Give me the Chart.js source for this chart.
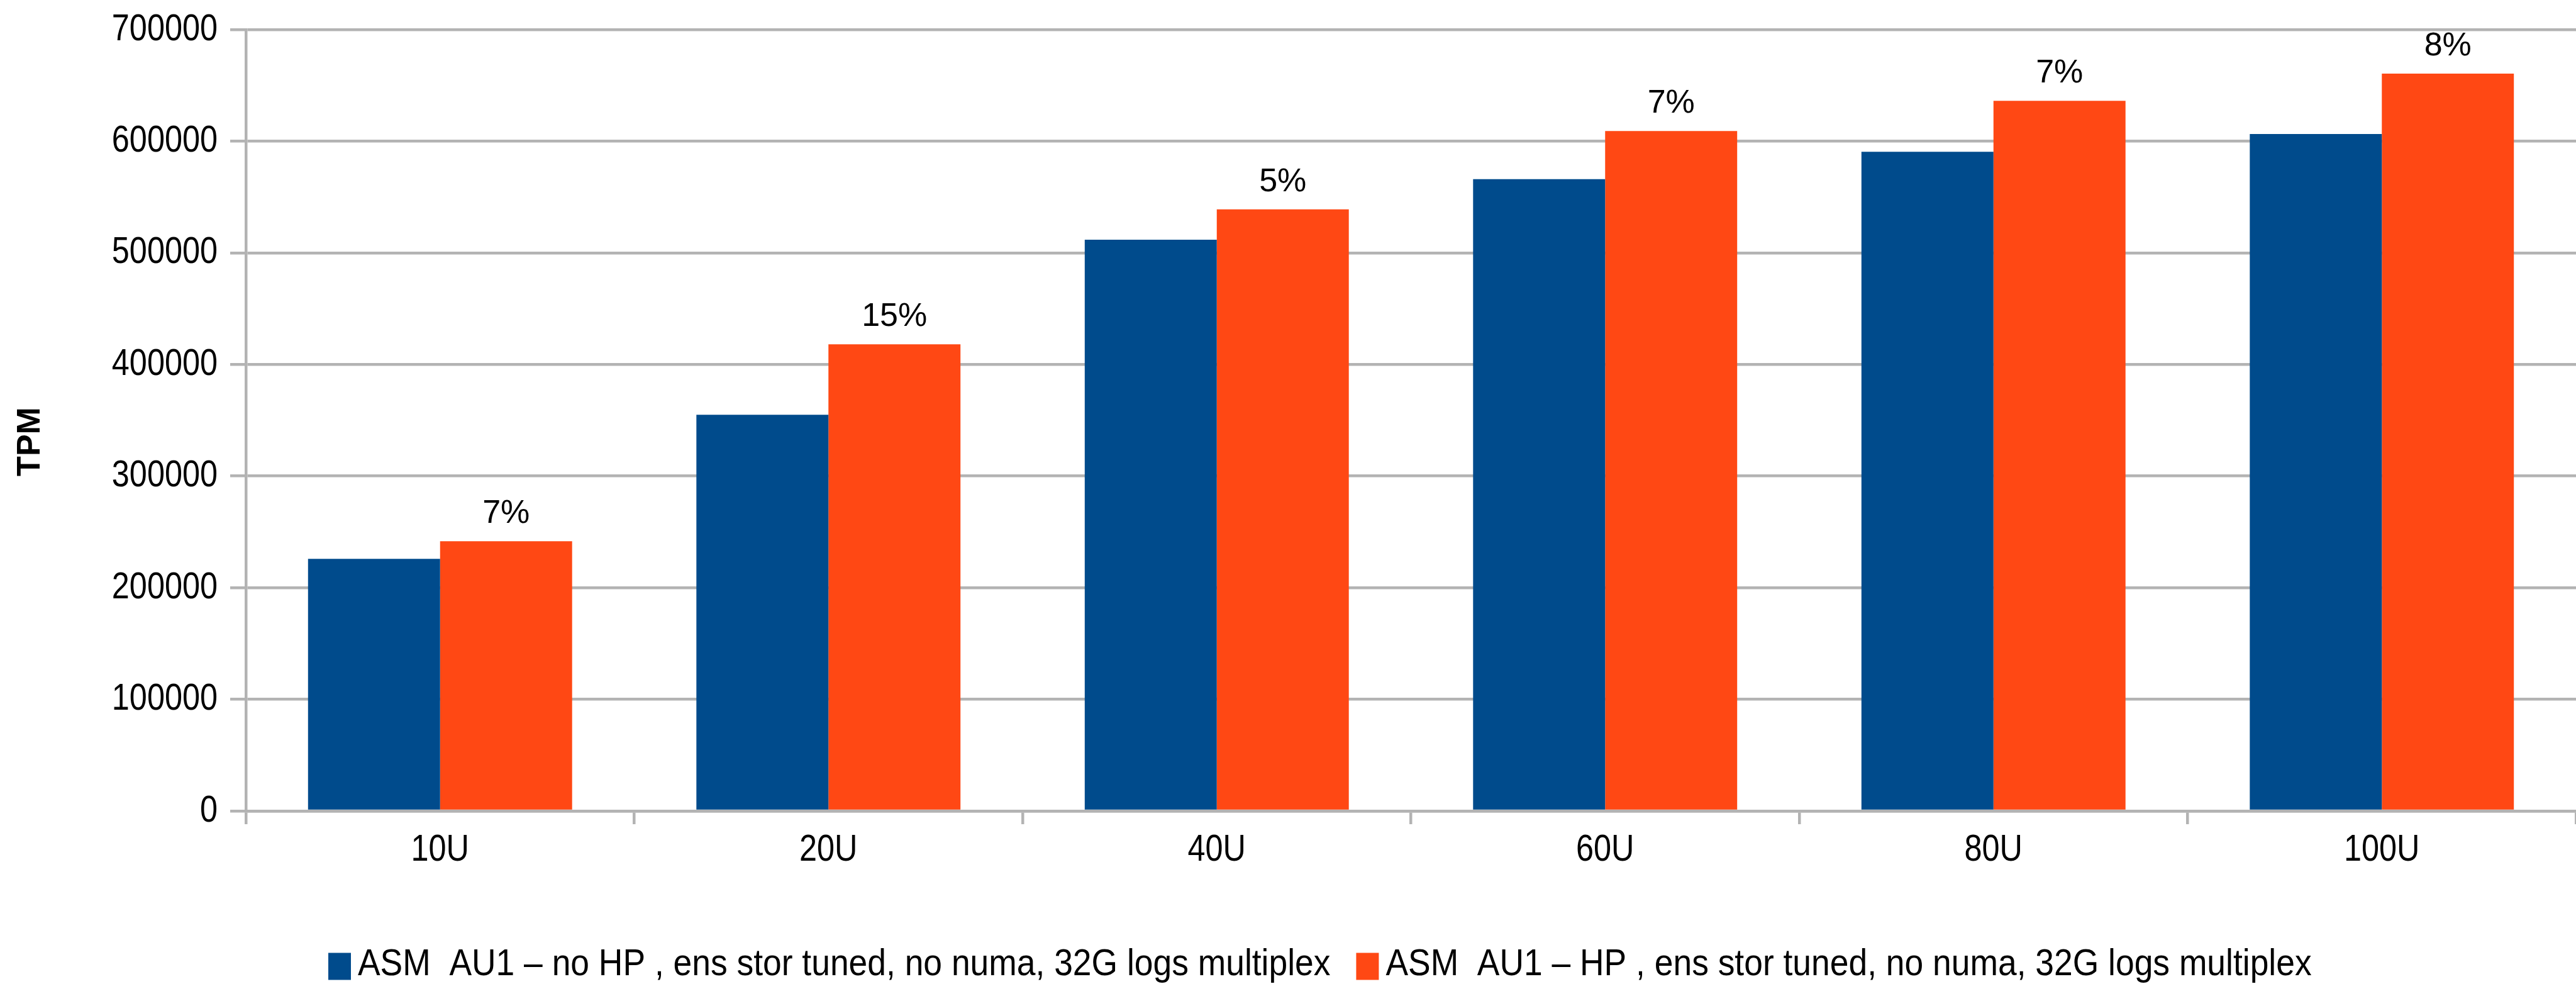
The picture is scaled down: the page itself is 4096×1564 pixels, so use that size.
<!DOCTYPE html>
<html>
<head>
<meta charset="utf-8">
<title>TPM</title>
<script src="https://cdn.jsdelivr.net/npm/chart.js@4.4.1/dist/chart.umd.min.js"></script>
<style>
  html, body { margin: 0; padding: 0; background: #fff; }
  #wrap { width: 4096px; height: 1564px; }
</style>
</head>
<body>
<div id="wrap"><canvas id="tpmChart" width="4096" height="1564"></canvas></div>
<script>
// Data
const categories = ['10U', '20U', '40U', '60U', '80U', '100U'];
const noHpValues = [225800, 355000, 511800, 566000, 590500, 606400];
const hpValues = [241700, 418000, 538900, 609100, 636200, 660600];
const gainLabels = ['7%', '15%', '5%', '7%', '7%', '8%'];
const seriesNames = [
    'ASM  AU1 – no HP , ens stor tuned, no numa, 32G logs multiplex',
    'ASM  AU1 – HP , ens stor tuned, no numa, 32G logs multiplex'
];
const yMax = 700000;
const yStep = 100000;

const regular = "'Liberation Sans', Arial, sans-serif";
const gridGrey = '#b3b3b3';
const axisSqueeze = 0.84;   // tick labels are drawn narrow
const legendSqueeze = 0.89;

function narrowText(ctx, text, x, y, squeeze) {
    ctx.fillText(text, x, y, ctx.measureText(text).width * squeeze);
}

// Percentage gain written above each HP bar
const gainLabelPlugin = {
    id: 'gainLabels',
    afterDatasetsDraw(chart) {
        const ctx = chart.ctx;
        const meta = chart.getDatasetMeta(1);
        ctx.save();
        ctx.font = '52px ' + regular;
        ctx.fillStyle = '#000';
        ctx.textAlign = 'center';
        ctx.textBaseline = 'alphabetic';
        meta.data.forEach((bar, i) => {
            ctx.fillText(gainLabels[i], bar.x, bar.y - 29);
        });
        ctx.restore();
    }
};

// Tick labels, y axis title and the legend row
const textPlugin = {
    id: 'axisText',
    afterDraw(chart) {
        const ctx = chart.ctx;
        const xScale = chart.scales.x;
        const yScale = chart.scales.y;

        ctx.save();
        ctx.font = '60px ' + regular;
        ctx.fillStyle = '#000';
        ctx.textBaseline = 'middle';

        ctx.textAlign = 'right';
        yScale.ticks.forEach((tick, i) => {
            narrowText(ctx, String(tick.value), yScale.right - 45, yScale.getPixelForTick(i), axisSqueeze);
        });

        ctx.textAlign = 'center';
        xScale.ticks.forEach((tick, i) => {
            narrowText(ctx, xScale.getLabelForValue(tick.value), xScale.getPixelForTick(i),
                chart.chartArea.bottom + 62, axisSqueeze);
        });
        ctx.restore();

        ctx.save();
        ctx.translate(49, 702);
        ctx.rotate(-Math.PI / 2);
        ctx.font = 'bold 52px ' + regular;
        ctx.fillStyle = '#000';
        ctx.textAlign = 'center';
        ctx.textBaseline = 'middle';
        ctx.fillText('TPM', 0, 0);
        ctx.restore();

        // legend
        ctx.save();
        ctx.font = '60px ' + regular;
        ctx.textAlign = 'left';
        ctx.textBaseline = 'middle';
        const boxW = 36, boxH = 43, gap = 11, itemGap = 41;
        let x = 522;
        const y = 1533;
        chart.data.datasets.forEach(ds => {
            ctx.fillStyle = ds.backgroundColor;
            ctx.fillRect(x, y - boxH / 2 + 3, boxW, boxH);
            x += boxW + gap;
            ctx.fillStyle = '#000';
            narrowText(ctx, ds.label, x, y, legendSqueeze);
            x += ctx.measureText(ds.label).width * legendSqueeze + itemGap;
        });
        ctx.restore();
    }
};

const ctx = document.getElementById('tpmChart').getContext('2d');
const tpmChart = new Chart(ctx, {
    type: 'bar',
    data: {
        labels: categories,
        datasets: [
            { label: seriesNames[0], data: noHpValues, backgroundColor: '#004b8c', borderWidth: 0 },
            { label: seriesNames[1], data: hpValues, backgroundColor: '#ff4814', borderWidth: 0 }
        ]
    },
    options: {
        responsive: false,
        animation: false,
        devicePixelRatio: 1,
        layout: { padding: { top: 47, right: 0, bottom: 0, left: 0 } },
        datasets: { bar: { barPercentage: 1, categoryPercentage: 0.68 } },
        plugins: {
            legend: { display: false },
            tooltip: { enabled: false }
        },
        scales: {
            x: {
                grid: { drawOnChartArea: false, color: gridGrey, lineWidth: 4.5, tickLength: 21, offset: true },
                border: { color: gridGrey, width: 4.5 },
                ticks: { display: false },
                afterFit: scale => { scale.height = 275; }
            },
            y: {
                min: 0,
                max: yMax,
                ticks: { display: false, stepSize: yStep },
                grid: { color: gridGrey, lineWidth: 4.5, tickLength: 25 },
                border: { color: gridGrey, width: 4.5 },
                afterFit: scale => { scale.width = 391; }
            }
        }
    },
    plugins: [gainLabelPlugin, textPlugin]
});
</script>
</body>
</html>
